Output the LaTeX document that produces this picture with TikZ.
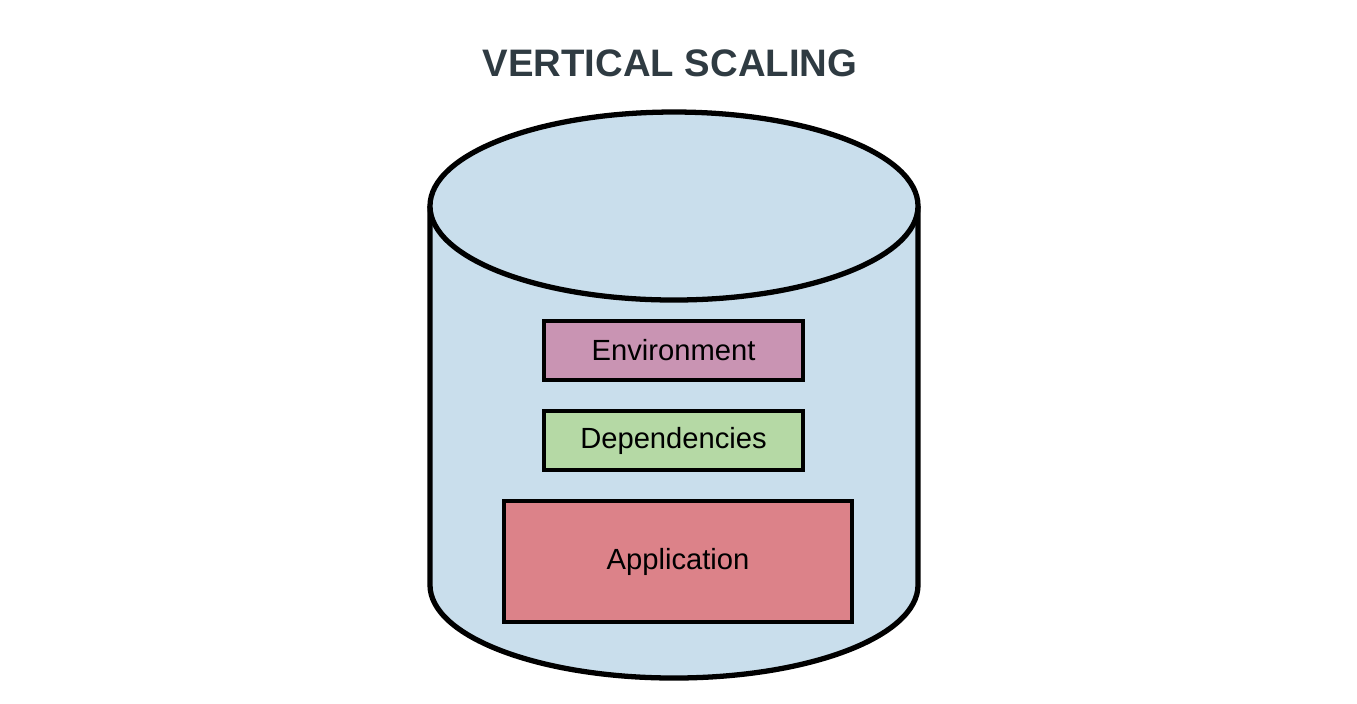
\documentclass[tikz,border=0pt]{standalone}
\usepackage{fontspec}
\setmainfont{Liberation Sans}
\definecolor{drum}{HTML}{C9DEEC}
\definecolor{envfill}{HTML}{C994B3}
\definecolor{depfill}{HTML}{B5D9A5}
\definecolor{appfill}{HTML}{DC8289}
\definecolor{titlegray}{HTML}{2F3B42}
\begin{document}
\begin{tikzpicture}[layer/.style={draw, line width=1.2pt, fill=#1, font=\fontsize{8.3}{10}\selectfont}]
\useasboundingbox (0,0) rectangle (13.57,-7.03);

\node[text=titlegray, font=\fontsize{10.9}{13}\selectfont\bfseries] (title) at (6.70,-0.63) {VERTICAL SCALING};

% the drum
\filldraw[fill=drum, line width=1.5pt] (4.30,-2.06) -- (4.30,-5.85) arc[start angle=180, end angle=360, x radius=2.44, y radius=0.93] -- (9.18,-2.06);
\draw[fill=drum, line width=1.5pt] (6.74,-2.06) ellipse[x radius=2.44, y radius=0.94];

\node[layer=envfill, minimum width=2.59cm, minimum height=0.59cm] (env) at (6.735,-3.505) {Environment};
\node[layer=depfill, minimum width=2.59cm, minimum height=0.59cm] (dep) at (6.735,-4.405) {Dependencies};
\node[layer=appfill, minimum width=3.48cm, minimum height=1.21cm] (app) at (6.78,-5.615) {Application};
\end{tikzpicture}
\end{document}
